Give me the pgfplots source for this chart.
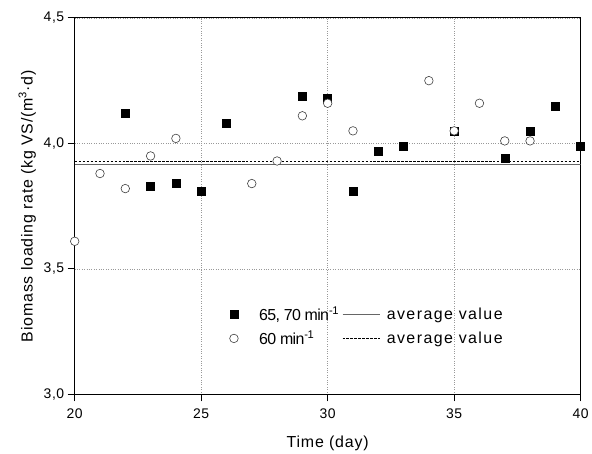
\documentclass[border=0pt]{standalone}
\usepackage{fontspec}
\setmainfont{Liberation Sans}
\usepackage{pgfplots}
\pgfplotsset{compat=1.18}

\pgfplotsset{
  markimg/.style={legend image code/.code={\draw[##1] plot coordinates {(6pt,0pt)};}},
  lineimg/.style={legend image code/.code={\draw[##1] (0pt,0pt) -- (38pt,0pt);}},
}

% squares: 65, 70 min^-1 ; circles: 60 min^-1
\begin{document}
\begin{tikzpicture}
\begin{axis}[
  name=ax,
  scale only axis,
  width=508pt, height=378pt,
  xmin=20, xmax=40, ymin=3.0, ymax=4.5,
  xtick={20,25,30,35,40},
  ytick={3.0,3.5,4.0,4.5},
  xtick pos=bottom, ytick pos=left,
  tick align=outside,
  major tick length=7pt,
  tick style={line width=1pt, black},
  axis line style={line width=1.1pt},
  grid=major,
  grid style={dotted, gray!80, line width=0.6pt},
  /pgf/number format/assume math mode=true,
  yticklabel style={/pgf/number format/.cd, fixed, fixed zerofill, precision=1, use comma},
  xticklabel style={yshift=-4pt},
  tick label style={font=\fontsize{14}{16}\selectfont\addfontfeature{LetterSpace=4}},
  label style={font=\fontsize{16}{18}\selectfont\addfontfeature{LetterSpace=5}},
  xlabel={Time (day)},
  ylabel={Biomass loading rate (kg VS/(m\textsuperscript{3}·d)},
  xlabel style={yshift=-10pt},
  ylabel style={yshift=1pt},
  legend columns=2,
  legend cell align=left,
  legend style={draw=none, fill=none,
    at={(rel axis cs:0.300,0.245)}, anchor=north west,
    font=\fontsize{16}{18}\selectfont,
    row sep=5pt,
    /tikz/every even column/.append style={column sep=1pt}},
]
\addplot[only marks, mark=square*, mark size=4pt, black, markimg]
  coordinates {
  (22,4.12) (23,3.83) (24,3.84) (25,3.81) (26,4.08) (29,4.19) (30,4.18)
  (31,3.81) (32,3.97) (33,3.99) (35,4.05) (37,3.94) (38,4.05) (39,4.15) (40,3.99)
};
\addlegendentry{\hspace*{19pt}\addfontfeature{LetterSpace=-4}65, 70 min\textsuperscript{-1}}
\addplot[gray!80!black, line width=0.9pt, lineimg]
  coordinates {(20,3.917) (40,3.917)};
\addlegendentry{\hspace*{4pt}\addfontfeature{LetterSpace=9}average value}
\addplot[only marks, mark=*, mark size=4.3pt, draw=black!75, fill=white, line width=0.6pt, markimg]
  coordinates {
  (20,3.61) (21,3.88) (22,3.82) (23,3.95) (24,4.02) (27,3.84) (28,3.93)
  (29,4.11) (30,4.16) (31,4.05) (34,4.25) (35,4.05) (36,4.16) (37,4.01) (38,4.01)
};
\addlegendentry{\hspace*{19pt}\addfontfeature{LetterSpace=-4}60 min\textsuperscript{-1}}
\addplot[black, line width=0.6pt, dash pattern=on 2.5pt off 1.5pt, lineimg]
  coordinates {(20,3.927) (40,3.927)};
\addlegendentry{\hspace*{4pt}\addfontfeature{LetterSpace=9}average value}
\end{axis}
\path ([shift={(-75pt,-57pt)}]ax.south west) rectangle ([shift={(9pt,18pt)}]ax.north east);
\end{tikzpicture}
\end{document}
